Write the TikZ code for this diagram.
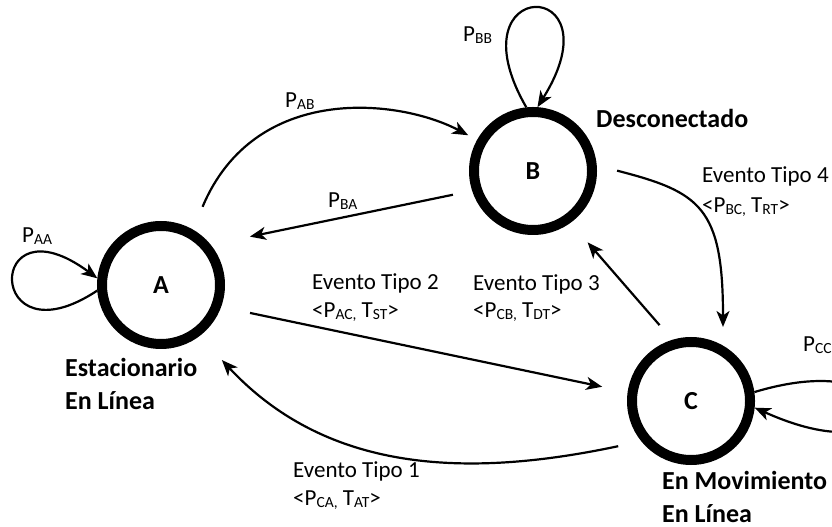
\documentclass[tikz,border=0pt]{standalone}
\usepackage{fontspec}
\setmainfont{Carlito}
\usetikzlibrary{arrows.meta}
% lowered, smaller index text (P_AB, T_ST, ...)
\newcommand\lowidx[1]{\raisebox{-2pt}{\fontsize{15.5}{15.5}\selectfont #1}}
\begin{document}
\begin{tikzpicture}[x=1pt,y=1pt,
  state/.style={circle, draw=black, fill=white, line width=10pt,
    minimum size=118pt, inner sep=0pt, font=\fontsize{26}{26}\selectfont\bfseries},
  lbl/.style={anchor=base west, inner sep=0pt, font=\fontsize{23}{23}\selectfont},
  tag/.style={anchor=base west, inner sep=0pt, font=\fontsize{26}{26}\selectfont\bfseries},
  edge/.style={line width=2.2pt, -{Stealth[length=16pt,width=13pt,inset=4.5pt]}},
]
\useasboundingbox (0,0) rectangle (832,527);
\clip (0,0) rectangle (832,527);
\fill[white] (0,0) rectangle (832,527);

% states
\node[state] (A) at (161,242) {A};
\node[state] (B) at (533,356) {B};
\node[state] (C) at (691,126) {C};

% self loops
\draw[edge] (A.185) .. controls (-15,162) and (-15,332) .. (A.174);
\draw[edge] (B.96) .. controls (450,552) and (620,552) .. (B.86);
\draw[edge] (C.8) .. controls (920,185) and (920,45) .. (C.-6);

% transitions between states
\draw[edge, shorten <=24.7pt, shorten >=10pt] (A.60) .. controls (255,445) and (400,428) .. (B.151);
\draw[edge, shorten <=19.6pt, shorten >=40pt] (B.198) -- (A.39);
\draw[edge, shorten <=29.5pt, shorten >=26pt] (A.-20) -- (C.172);
\draw[edge, shorten <=19.4pt, shorten >=26pt] (C.107) -- (B.-54);
\draw[edge, shorten <=21pt, shorten >=18.6pt] (B.5) .. controls (700,335) and (723,320) .. (C.60);
\draw[edge, shorten <=23.6pt, shorten >=32.8pt] (C.219) .. controls (455.5,46.2) and (322.4,59.4) .. (A.-53);

% probabilities
\node[lbl] (pAA) at (22,284) {P\lowidx{AA}};
\node[lbl] (pBB) at (463,485) {P\lowidx{BB}};
\node[lbl] (pAB) at (285,419) {P\lowidx{AB}};
\node[lbl] (pBA) at (328,319) {P\lowidx{BA}};
\node[lbl] (pCC) at (803,175) {P\lowidx{CC}};

% events
\node[lbl] (ev2) at (312,237) {Evento Tipo 2};
\node[lbl] (ev2b) at (312,209) {<P\lowidx{AC,} T\lowidx{ST}>};
\node[lbl] (ev3) at (473,236) {Evento Tipo 3};
\node[lbl] (ev3b) at (473,209) {<P\lowidx{CB,} T\lowidx{DT}>};
\node[lbl] (ev4) at (702,344) {Evento Tipo 4};
\node[lbl] (ev4b) at (702,314) {<P\lowidx{BC,} T\lowidx{RT}>};
\node[lbl] (ev1) at (293,49) {Evento Tipo 1};
\node[lbl] (ev1b) at (293,21) {<P\lowidx{CA,} T\lowidx{AT}>};

% state descriptions
\node[tag] (tA1) at (65,150) {Estacionario};
\node[tag] (tA2) at (65,117) {En Línea};
\node[tag] (tB) at (596,399) {Desconectado};
\node[tag] (tC1) at (662,37) {En Movimiento};
\node[tag] (tC2) at (662,5) {En Línea};
\end{tikzpicture}
\end{document}
